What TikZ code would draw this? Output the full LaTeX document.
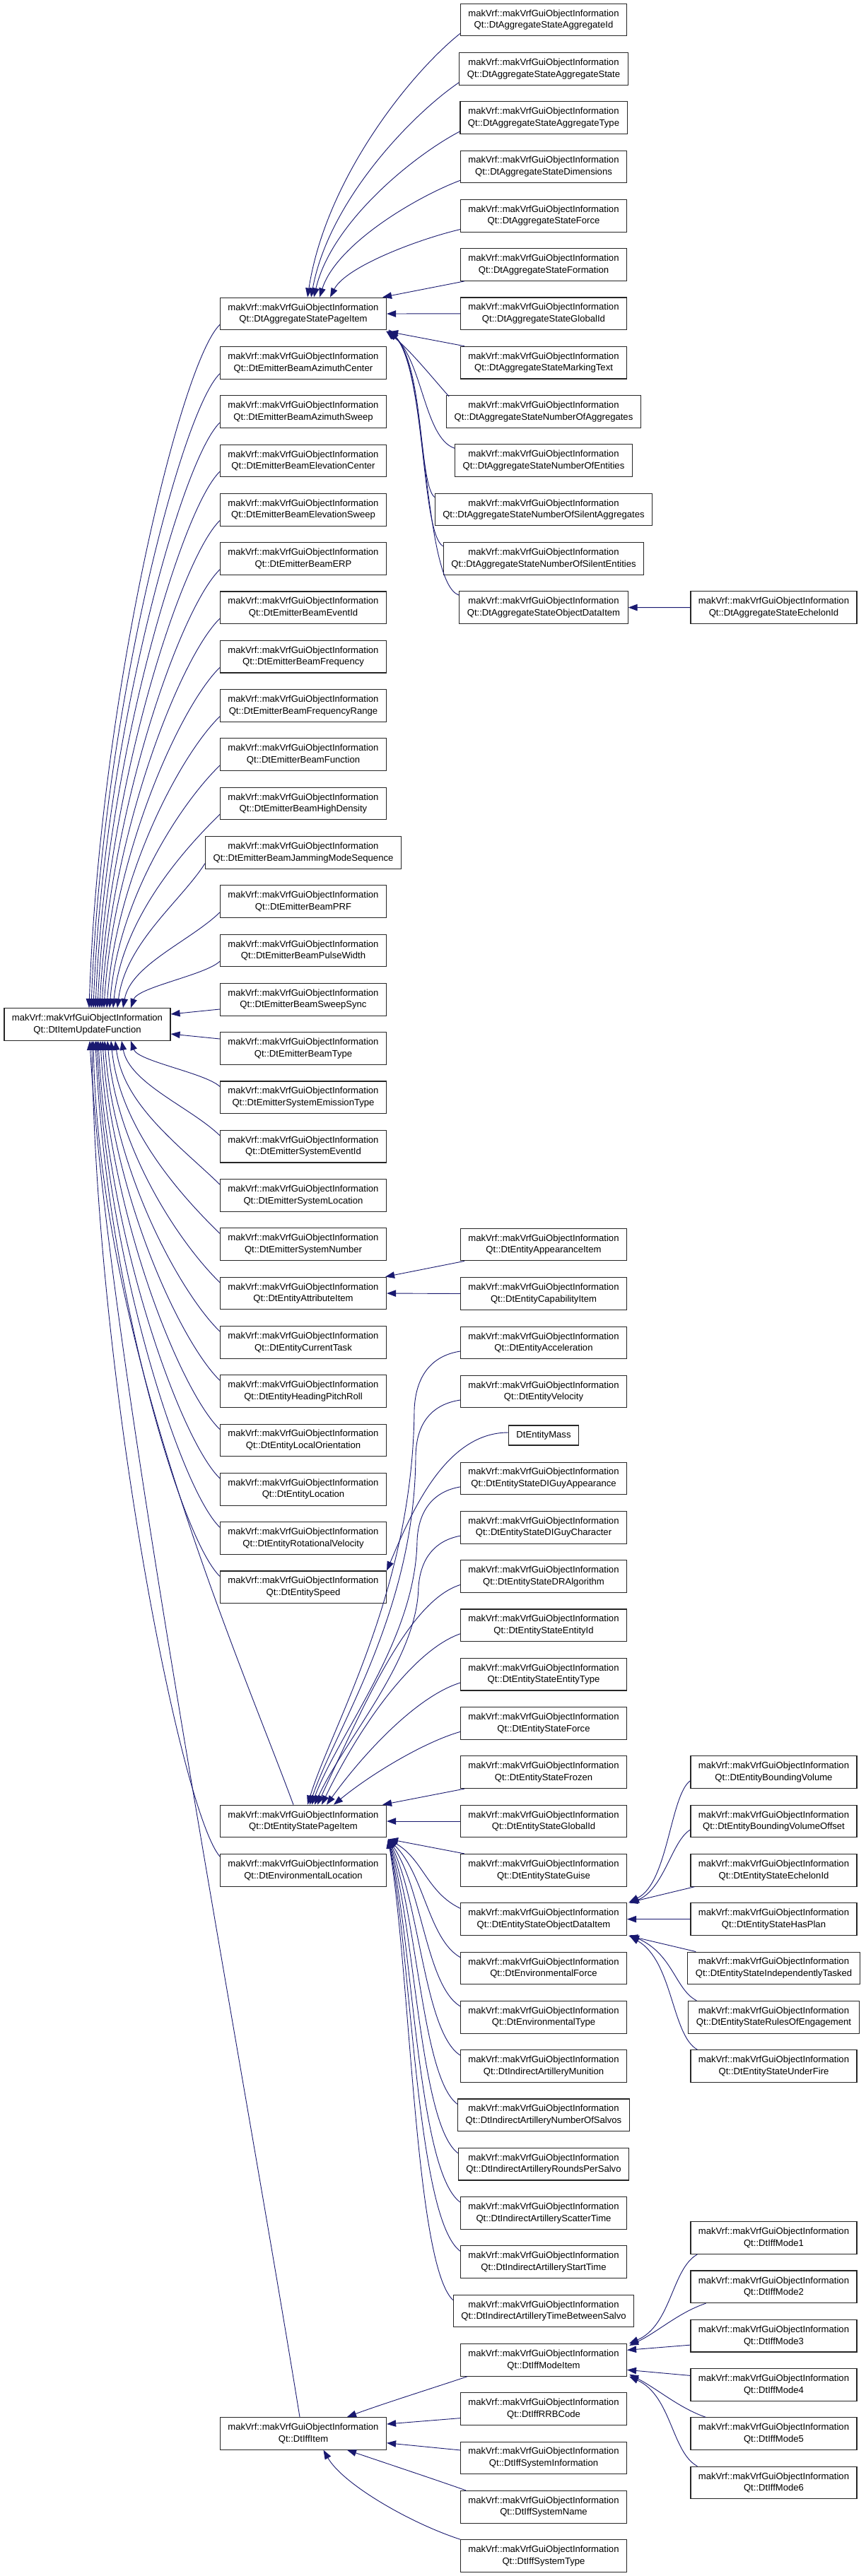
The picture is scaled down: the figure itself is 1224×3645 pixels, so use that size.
\documentclass[tikz,border=0pt]{standalone}
\usepackage{fontspec}
\setmainfont{Liberation Sans}
\usetikzlibrary{arrows.meta}
\definecolor{mblue}{HTML}{191970}
\newcommand{\mvq}{makVrf::makVrfGuiObjectInformation\\Qt::}
\begin{document}
\begin{tikzpicture}[x=1pt,y=-1pt,
  box/.style={draw=black!85, line width=1.1pt, fill=white, align=center,
    font=\fontsize{13.1}{16.7}\selectfont, inner xsep=11pt, inner ysep=0pt,
    minimum height=45.7pt},
  edge/.style={draw=mblue, line width=0.9pt, -{Triangle[length=13pt,width=9.5pt]}}]
\useasboundingbox (0,0) rectangle (1224,3645);
\fill[white] (0,0) rectangle (1224,3645);

% root
\node[box] (R) at (123.5,1449.5) {\mvq DtItemUpdateFunction};

% column 1
\foreach \k/\nm in {0/DtAggregateStatePageItem,1/DtEmitterBeamAzimuthCenter,2/DtEmitterBeamAzimuthSweep,3/DtEmitterBeamElevationCenter,4/DtEmitterBeamElevationSweep,5/DtEmitterBeamERP,6/DtEmitterBeamEventId,7/DtEmitterBeamFrequency,8/DtEmitterBeamFrequencyRange,9/DtEmitterBeamFunction,10/DtEmitterBeamHighDensity,11/DtEmitterBeamJammingModeSequence,12/DtEmitterBeamPRF,13/DtEmitterBeamPulseWidth,14/DtEmitterBeamSweepSync,15/DtEmitterBeamType,16/DtEmitterSystemEmissionType,17/DtEmitterSystemEventId,18/DtEmitterSystemLocation,19/DtEmitterSystemNumber,20/DtEntityAttributeItem,21/DtEntityCurrentTask,22/DtEntityHeadingPitchRoll,23/DtEntityLocalOrientation,24/DtEntityLocation,25/DtEntityRotationalVelocity,26/DtEntitySpeed}
  \node[box] (c\k) at (429,{444+69.3*\k}) {\mvq\nm};
\node[box] (esp) at (429,2577) {\mvq DtEntityStatePageItem};
\node[box] (envl) at (429,2646.3) {\mvq DtEnvironmentalLocation};
\node[box] (iff) at (429,3443.3) {\mvq DtIffItem};

% column 2, aggregate group
\foreach \j/\nm in {0/AggregateId,1/AggregateState,2/AggregateType,3/Dimensions,4/Force,5/Formation,6/GlobalId,7/MarkingText,8/NumberOfAggregates,9/NumberOfEntities,10/NumberOfSilentAggregates,11/NumberOfSilentEntities,12/ObjectDataItem}
  \node[box] (a\j) at (769,{28+69.3*\j}) {\mvq DtAggregateState\nm};
\node[box] (aech) at (1094.5,859.6) {\mvq DtAggregateStateEchelonId};

% column 2, entity groups
\node[box] (eap) at (769,1761) {\mvq DtEntityAppearanceItem};
\node[box] (ecap) at (769,1830.5) {\mvq DtEntityCapabilityItem};
\node[box] (eacc) at (769,1900) {\mvq DtEntityAcceleration};
\node[box] (evel) at (769,1969) {\mvq DtEntityVelocity};
\node[box, minimum height=28pt] (emass) at (769,2031) {DtEntityMass};
\node[box] (edga) at (769,2091.9) {\mvq DtEntityStateDIGuyAppearance};
\node[box] (edgc) at (769,2161.2) {\mvq DtEntityStateDIGuyCharacter};
\node[box] (edr) at (769,2230.5) {\mvq DtEntityStateDRAlgorithm};
\node[box] (eid) at (769,2299.8) {\mvq DtEntityStateEntityId};
\node[box] (etype) at (769,2369.1) {\mvq DtEntityStateEntityType};
\node[box] (eforce) at (769,2438.4) {\mvq DtEntityStateForce};
\node[box] (efroz) at (769,2507.7) {\mvq DtEntityStateFrozen};
\node[box] (egid) at (769,2577) {\mvq DtEntityStateGlobalId};
\node[box] (eguise) at (769,2646.3) {\mvq DtEntityStateGuise};
\node[box] (eodi) at (769,2715.6) {\mvq DtEntityStateObjectDataItem};
\node[box] (envf) at (769,2784.9) {\mvq DtEnvironmentalForce};
\node[box] (envt) at (769,2854.2) {\mvq DtEnvironmentalType};
\node[box] (imun) at (769,2923.5) {\mvq DtIndirectArtilleryMunition};
\node[box] (isal) at (769,2992.8) {\mvq DtIndirectArtilleryNumberOfSalvos};
\node[box] (irps) at (769,3062.1) {\mvq DtIndirectArtilleryRoundsPerSalvo};
\node[box] (isct) at (769,3131.4) {\mvq DtIndirectArtilleryScatterTime};
\node[box] (ist) at (769,3200.7) {\mvq DtIndirectArtilleryStartTime};
\node[box] (itbs) at (769,3270) {\mvq DtIndirectArtilleryTimeBetweenSalvo};
\node[box] (ifm) at (769,3339.3) {\mvq DtIffModeItem};
\node[box] (irrb) at (769,3408.6) {\mvq DtIffRRBCode};
\node[box] (isi) at (769,3477.9) {\mvq DtIffSystemInformation};
\node[box] (isn) at (769,3547.2) {\mvq DtIffSystemName};
\node[box] (isty) at (769,3616.5) {\mvq DtIffSystemType};

% column 3
\node[box] (bv) at (1094.5,2507.7) {\mvq DtEntityBoundingVolume};
\node[box] (bvo) at (1094.5,2577) {\mvq DtEntityBoundingVolumeOffset};
\node[box] (sech) at (1094.5,2646.3) {\mvq DtEntityStateEchelonId};
\node[box] (hp) at (1094.5,2715.6) {\mvq DtEntityStateHasPlan};
\node[box] (it) at (1094.5,2784.9) {\mvq DtEntityStateIndependentlyTasked};
\node[box] (roe) at (1094.5,2854.2) {\mvq DtEntityStateRulesOfEngagement};
\node[box] (uf) at (1094.5,2923.5) {\mvq DtEntityStateUnderFire};
\foreach \i in {1,...,6}
  \node[box] (m\i) at (1094.5,{3166.5+69.3*(\i-1)}) {\mvq DtIffMode\i};

% ---------- edges: column 1 -> root ----------
\foreach \k/\xe in {0/126,1/129,2/132,3/135,4/138,5/141,6/144,7/147,8/151,9/155,10/160,11/166,12/174,13/185}{
  \pgfmathsetmacro\ys{458.85+69.3*\k}
  \pgfmathsetmacro\D{1427-\ys}
  \pgfmathsetmacro\st{min(0.3*\D,55)}
  \pgfmathsetmacro\ax{310-\st}
  \pgfmathsetmacro\ay{\ys+\st}
  \pgfmathsetmacro\bx{\xe+0.08*(310-\xe)}
  \pgfmathsetmacro\by{1427-0.45*\D}
  \pgfmathsetmacro\dx{\xe-123.5}
  \draw[edge] ([yshift=8pt]c\k.south west) .. controls (\ax,\ay) and (\bx,\by) .. ([xshift=\dx pt]R.north);
}
\draw[edge] ([yshift=-13.8pt]c14.west) -- ([yshift=14.5pt]R.east);
\draw[edge] ([yshift=13.5pt]c15.west) -- ([yshift=-13.5pt]R.east);
\foreach \k/\xe in {16/185,17/172,18/163,19/157,20/152,21/148,22/145,23/142,24/139,25/137,26/135}{
  \pgfmathsetmacro\ys{444+69.3*\k-14.85}
  \pgfmathsetmacro\D{\ys-1472}
  \pgfmathsetmacro\st{min(0.3*\D,55)}
  \pgfmathsetmacro\ax{310-\st}
  \pgfmathsetmacro\ay{\ys-\st}
  \pgfmathsetmacro\bx{\xe+0.08*(310-\xe)}
  \pgfmathsetmacro\by{1472+0.45*\D}
  \pgfmathsetmacro\dx{\xe-123.5}
  \draw[edge] ([yshift=-8pt]c\k.north west) .. controls (\ax,\ay) and (\bx,\by) .. ([xshift=\dx pt]R.south);
}
\draw[edge] ([xshift=-14pt]esp.north) .. controls (340,2350) and (140,1900) .. ([xshift=8.5pt]R.south);
\draw[edge] ([yshift=-4pt]envl.north west) .. controls (255,2560) and (136,1950) .. ([xshift=6.5pt]R.south);
\draw[edge] ([xshift=-5pt]iff.north) .. controls (340,2900) and (150,1900) .. ([xshift=3.5pt]R.south);

% ---------- aggregate group -> DtAggregateStatePageItem ----------
\foreach \j/\xe in {0/435,1/440,2/444,3/452,4/467}{
  \pgfmathsetmacro\ys{46.85+69.3*\j}
  \pgfmathsetmacro\D{421-\ys}
  \pgfmathsetmacro\ax{650-0.32*(650-\xe)}
  \pgfmathsetmacro\ay{\ys+0.15*\D}
  \pgfmathsetmacro\bx{\xe+0.12*(650-\xe)}
  \pgfmathsetmacro\by{421-0.45*\D}
  \pgfmathsetmacro\dx{\xe-429}
  \draw[edge] ([yshift=4pt]a\j.south west) .. controls (\ax,\ay) and (\bx,\by) .. ([xshift=\dx pt]c0.north);
}
\draw[edge] ([xshift=6pt]a5.south west) -- ([xshift=-6pt]c0.north east);
\draw[edge] (a6.west) -- (c0.east);
\draw[edge] ([xshift=6pt]a7.north west) -- ([xshift=3pt,yshift=-2pt]c0.south east);
\draw[edge] ([xshift=4pt,yshift=-2pt]a8.north west) .. controls (612,535) and (580,495) .. ([xshift=-1pt,yshift=-1pt]c0.south east);
\draw[edge] ([yshift=-6pt]a9.north west) .. controls (600,620) and (598,510) .. ([xshift=1pt,yshift=-1pt]c0.south east);
\draw[edge] ([yshift=-6pt]a10.north west) .. controls (592,685) and (600,515) .. ([xshift=2pt]c0.south east);
\draw[edge] ([yshift=-6pt]a11.north west) .. controls (595,755) and (602,520) .. ([xshift=3pt,yshift=1pt]c0.south east);
\draw[edge] ([yshift=-6pt]a12.north west) .. controls (598,825) and (605,525) .. ([xshift=4pt,yshift=-1pt]c0.south east);
\draw[edge] (aech.west) -- (a12.east);

% ---------- DtEntityAttributeItem ----------
\draw[edge] ([xshift=6pt]eap.south west) -- ([xshift=-2pt]c20.north east);
\draw[edge] (ecap.west) -- (c20.east);

% ---------- DtEntityMass -> DtEntitySpeed ----------
\draw[edge] ([yshift=4pt]emass.west) .. controls (630,2027) and (582,2140) .. (c26.north east);

% ---------- entity state group -> DtEntityStatePageItem ----------
\draw[edge] ([yshift=-12pt]eacc.west) .. controls (612,1918) and (588,1945) .. (586,1995) .. controls (584,2250) and (470,2440) .. ([xshift=6pt]esp.north);
\draw[edge] ([yshift=-12pt]evel.west) .. controls (612,1987) and (589,2012) .. (588,2060) .. controls (587,2280) and (475,2445) .. ([xshift=9pt]esp.north);
\draw[edge] ([yshift=-12pt]edga.west) .. controls (615,2110) and (592,2135) .. (590,2180) .. controls (588,2320) and (480,2450) .. ([xshift=12pt]esp.north);
\draw[edge] ([yshift=-12pt]edgc.west) .. controls (615,2180) and (595,2205) .. (592,2245) .. controls (590,2350) and (488,2460) .. ([xshift=16pt]esp.north);
\draw[edge] ([yshift=-12pt]edr.west) .. controls (580,2265) and (520,2400) .. ([xshift=20pt]esp.north);
\draw[edge] ([yshift=-12pt]eid.west) .. controls (585,2335) and (510,2440) .. ([xshift=26pt]esp.north);
\draw[edge] ([yshift=-12pt]etype.west) .. controls (590,2400) and (515,2480) .. ([xshift=33pt]esp.north);
\draw[edge] ([yshift=-12pt]eforce.west) .. controls (600,2465) and (525,2510) .. ([xshift=43pt]esp.north);
\draw[edge] ([xshift=6pt]efroz.south west) -- ([xshift=-6pt]esp.north east);
\draw[edge] (egid.west) -- (esp.east);
\draw[edge] ([xshift=6pt]eguise.north west) -- ([xshift=3pt,yshift=-2pt]esp.south east);
\foreach \nm/\yc/\bx in {eodi/2715.6/604,envf/2784.9/606,envt/2854.2/603,imun/2923.5/600,isal/2992.8/597,irps/3062.1/594,isct/3131.4/591,ist/3200.7/589,itbs/3270/587}{
  \pgfmathsetmacro\ys{\yc-14.85}
  \pgfmathsetmacro\D{\ys-2600}
  \pgfmathsetmacro\ay{\ys-0.05*\D-18}
  \pgfmathsetmacro\by{2600+0.3*\D}
  \pgfmathsetmacro\bxx{\bx-6}
  \draw[edge] ([yshift=-8pt]\nm.north west) .. controls (\bx,\ay) and (\bxx,\by) .. ([xshift=2pt,yshift=-2pt]esp.south east);
}

% ---------- entity object data item ----------
\draw[edge] ([yshift=-12pt]bv.west) .. controls (948,2540) and (945,2665) .. ([xshift=3pt,yshift=1pt]eodi.north east);
\draw[edge] ([yshift=-12pt]bvo.west) .. controls (950,2605) and (940,2672) .. ([xshift=4pt,yshift=-1pt]eodi.north east);
\draw[edge] ([xshift=6pt]sech.south west) -- ([xshift=2pt]eodi.north east);
\draw[edge] (hp.west) -- (eodi.east);
\draw[edge] ([xshift=12pt]it.north west) -- ([xshift=2pt]eodi.south east);
\draw[edge] ([xshift=12pt]roe.north west) .. controls (955,2815) and (952,2765) .. ([xshift=4pt,yshift=1pt]eodi.south east);
\draw[edge] ([xshift=10pt]uf.north west) .. controls (950,2880) and (952,2775) .. ([xshift=4pt,yshift=-1pt]eodi.south east);

% ---------- IFF ----------
\draw[edge] ([xshift=10pt]ifm.south west) .. controls (625,3375) and (545,3400) .. ([xshift=62pt]iff.north);
\draw[edge] ([yshift=-13pt]irrb.west) -- ([yshift=13.3pt]iff.east);
\draw[edge] ([yshift=11pt]isi.west) -- ([yshift=-13.4pt]iff.east);
\draw[edge] ([xshift=8pt]isn.north west) .. controls (620,3510) and (545,3485) .. ([xshift=62pt]iff.south);
\draw[edge] (isty.north west) .. controls (580,3570) and (485,3515) .. ([xshift=28.5pt]iff.south);

\draw[edge] ([xshift=10pt]m1.south west) .. controls (950,3210) and (950,3290) .. ([xshift=3pt]ifm.north east);
\draw[edge] ([xshift=22pt]m2.south west) .. controls (960,3272) and (930,3300) .. ([xshift=3pt,yshift=-3pt]ifm.north east);
\draw[edge] ([yshift=-13pt]m3.west) -- ([yshift=14pt]ifm.east);
\draw[edge] ([yshift=13pt]m4.west) -- ([yshift=-14pt]ifm.east);
\draw[edge] ([xshift=22pt]m5.north west) .. controls (960,3407) and (930,3380) .. ([xshift=3pt,yshift=3pt]ifm.south east);
\draw[edge] ([xshift=10pt]m6.north west) .. controls (950,3470) and (950,3390) .. ([xshift=3pt]ifm.south east);
\end{tikzpicture}
\end{document}
